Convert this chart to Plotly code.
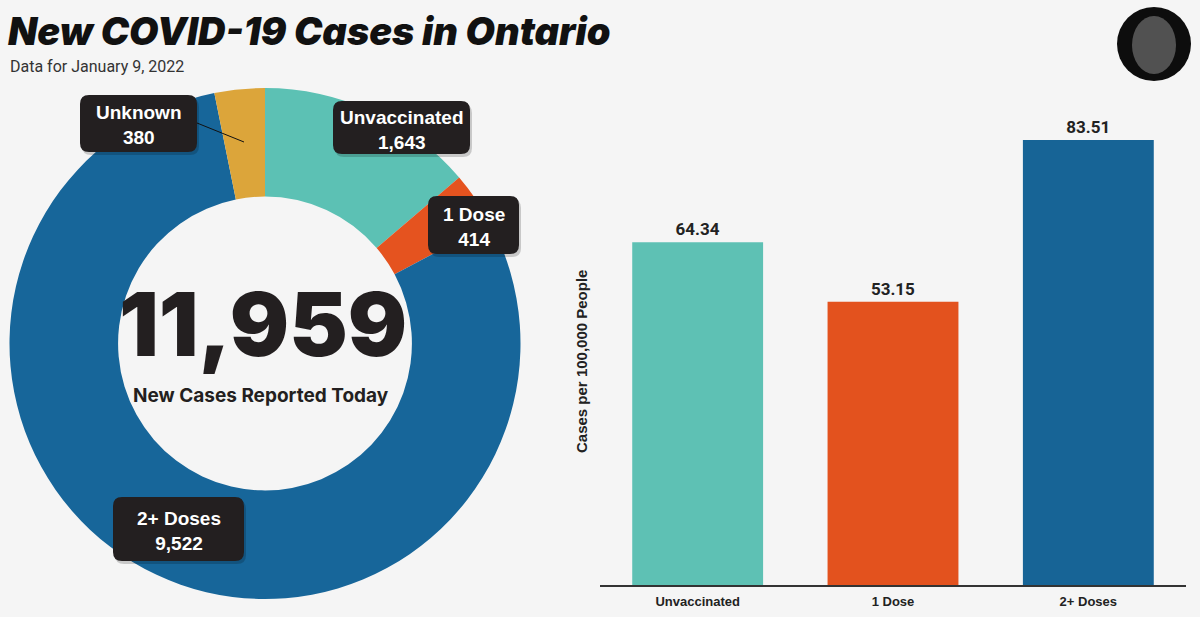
import plotly.graph_objects as go

W, H = 1200, 617

# ---------------- data ----------------
pie_labels = ["Unvaccinated", "1 Dose", "2+ Doses", "Unknown"]
pie_values = [1643, 414, 9522, 380]
pie_colors = ["#5cc1b4", "#e5531f", "#17669a", "#dca53a"]

bar_categories = ["Unvaccinated", "1 Dose", "2+ Doses"]
bar_values = [64.34, 53.15, 83.51]
bar_colors = ["#5ec1b4", "#e3521e", "#176496"]

total_cases = sum(pie_values)

title_text = "New COVID-19 Cases in Ontario"
subtitle_text = "Data for January 9, 2022"
y_title = "Cases per 100,000 People"

BG = "#f5f5f5"
DARK = "#231f20"


def px(x):
    return x / W


def py(y):
    return 1 - y / H


def rounded_rect(x0, y0, x1, y1, r):
    X = lambda v: f"{px(v):.5f}"
    Y = lambda v: f"{py(v):.5f}"
    return (f"M {X(x0 + r)},{Y(y0)} L {X(x1 - r)},{Y(y0)} Q {X(x1)},{Y(y0)} {X(x1)},{Y(y0 + r)} "
            f"L {X(x1)},{Y(y1 - r)} Q {X(x1)},{Y(y1)} {X(x1 - r)},{Y(y1)} "
            f"L {X(x0 + r)},{Y(y1)} Q {X(x0)},{Y(y1)} {X(x0)},{Y(y1 - r)} "
            f"L {X(x0)},{Y(y0 + r)} Q {X(x0)},{Y(y0)} {X(x0 + r)},{Y(y0)} Z")


fig = go.Figure()

# donut
cx, cy, R = 265, 343.5, 255.5
fig.add_trace(go.Pie(
    labels=pie_labels, values=pie_values, sort=False, direction="clockwise", rotation=0,
    hole=0.575, marker=dict(colors=pie_colors, line=dict(width=0)),
    textinfo="none", hoverinfo="label+value", showlegend=False,
    domain=dict(x=[px(cx - R), px(cx + R)], y=[py(cy + R), py(cy - R)]),
))

# bars
fig.add_trace(go.Bar(
    x=bar_categories, y=bar_values, marker=dict(color=bar_colors, line=dict(width=0)),
    texttemplate="%{y:.2f}", textposition="outside", cliponaxis=False,
    textfont=dict(family="Roboto", size=17, color="#222", weight="bold"),
    showlegend=False, hoverinfo="x+y", width=0.67,
))

y_top_px = 585 - 90 * (445 / 83.51)
fig.update_layout(
    width=W, height=H, margin=dict(l=0, r=0, t=0, b=0),
    paper_bgcolor=BG, plot_bgcolor=BG,
    xaxis=dict(domain=[px(600), px(1186)], showline=True, linecolor="#333", linewidth=1.5,
               ticks="", showgrid=False, zeroline=False, ticklabelstandoff=4,
               tickfont=dict(family="Liberation Sans", size=13, color="#222", weight="bold")),
    yaxis=dict(domain=[py(585), py(y_top_px)], range=[0, 90], showticklabels=False,
               showgrid=False, zeroline=False, showline=False, ticks=""),
)

shapes = []
annotations = []

# title & subtitle
annotations.append(dict(text=title_text, x=px(6), y=py(31), xref="paper", yref="paper",
                        xanchor="left", yanchor="middle", showarrow=False,
                        font=dict(family="Inter", size=38, color="#111", weight=900, style="italic")))
annotations.append(dict(text=subtitle_text, x=px(8), y=py(66), xref="paper", yref="paper",
                        xanchor="left", yanchor="middle", showarrow=False,
                        font=dict(family="Roboto", size=16, color="#333")))

# center of donut
annotations.append(dict(text=f"{total_cases:,}", x=px(263), y=py(324), xref="paper", yref="paper",
                        xanchor="center", yanchor="middle", showarrow=False,
                        font=dict(family="Inter", size=88, color=DARK, weight=900)))
annotations.append(dict(text="New Cases Reported Today", x=px(261), y=py(395), xref="paper", yref="paper",
                        xanchor="center", yanchor="middle", showarrow=False,
                        font=dict(family="Inter", size=19, color=DARK, weight="bold")))

# label boxes for donut
boxes = [
    (pie_labels[3], pie_values[3], (80, 95, 197, 152)),
    (pie_labels[0], pie_values[0], (333, 101, 470, 154)),
    (pie_labels[1], pie_values[1], (428, 196, 519, 254)),
    (pie_labels[2], pie_values[2], (113, 497, 244, 561)),
]
shapes.append(dict(type="line", xref="paper", yref="paper", x0=px(197), y0=py(123), x1=px(244), y1=py(142),
                   line=dict(color="#111", width=1)))
for lab, val, (x0, y0, x1, y1) in boxes:
    shapes.append(dict(type="path", xref="paper", yref="paper",
                       path=rounded_rect(x0 + 2, y0 + 3, x1 + 2, y1 + 3, 9),
                       fillcolor="rgba(0,0,0,0.18)", line=dict(width=0)))
    shapes.append(dict(type="path", xref="paper", yref="paper", path=rounded_rect(x0, y0, x1, y1, 9),
                       fillcolor=DARK, line=dict(width=0)))
    annotations.append(dict(text=f"{lab}<br>{val:,}", x=px((x0 + x1) / 2), y=py((y0 + y1) / 2 + 2),
                            xref="paper", yref="paper", xanchor="center", yanchor="middle",
                            showarrow=False, align="center",
                            font=dict(family="Liberation Sans", size=19, color="white", weight="bold")))

# y-axis title
annotations.append(dict(text=y_title, x=px(581), y=py(362), xref="paper", yref="paper",
                        xanchor="center", yanchor="middle", showarrow=False, textangle=-90,
                        font=dict(family="Liberation Sans", size=15, color="#222", weight="bold")))

# logo (black disc)
shapes.append(dict(type="circle", xref="paper", yref="paper", x0=px(1117), y0=py(81), x1=px(1191), y1=py(7),
                   fillcolor="#0d0d0d", line=dict(width=0)))
shapes.append(dict(type="circle", xref="paper", yref="paper", x0=px(1132), y0=py(74), x1=px(1176), y1=py(16),
                   fillcolor="#8a8a8a", opacity=0.55, line=dict(width=0)))

fig.update_layout(shapes=shapes, annotations=annotations)

fig.write_html("out.html")
